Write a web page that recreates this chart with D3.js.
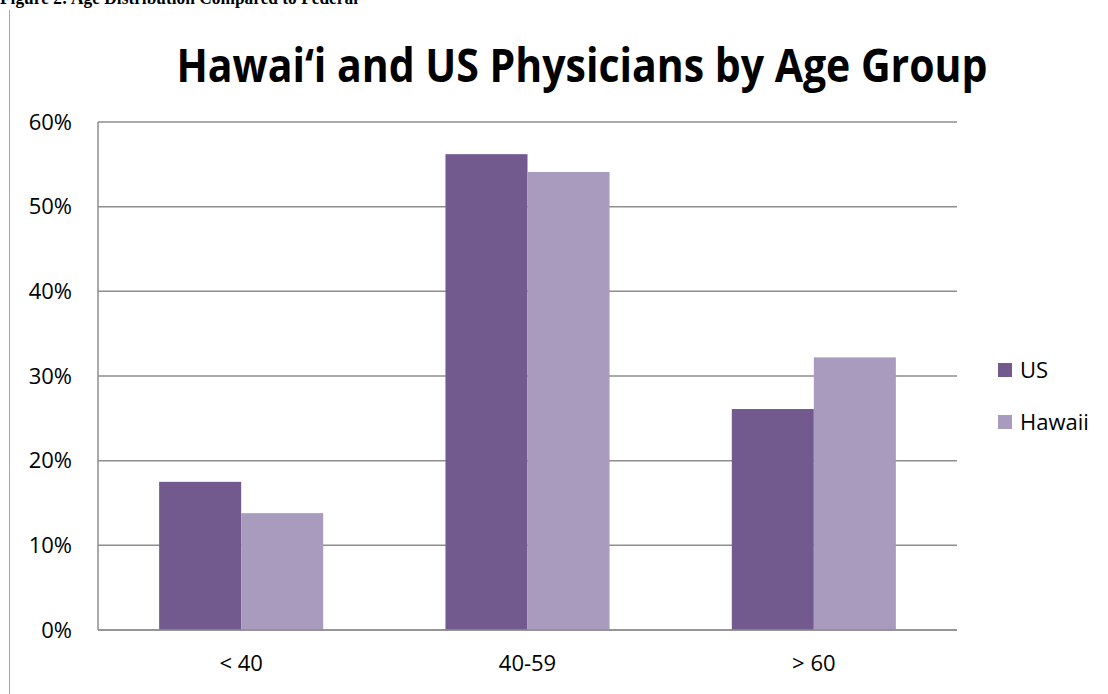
<!DOCTYPE html>
<html>
<head>
<meta charset="utf-8">
<script src="https://cdn.jsdelivr.net/npm/d3@7"></script>
<style>
  body { margin: 0; background: #fff; }
  svg { display: block; }
</style>
</head>
<body>
<div id="chart"></div>
<script>
const ageGroups = ["< 40", "40-59", "> 60"];
const seriesNames = ["US", "Hawaii"];
const usValues = [0.175, 0.562, 0.261];
const hawaiiValues = [0.138, 0.541, 0.322];
const yTicks = [0, 0.1, 0.2, 0.3, 0.4, 0.5, 0.6];
const colors = ["#725a8e", "#a99bbd"];

function barChart() {
  const width = 1108;
  const height = 694;
  const margin = { top: 122, right: 151, bottom: 64, left: 98 };

  const svg = d3.select("#chart")
    .append("svg")
    .attr("width", width)
    .attr("height", height);

  // caption from the document, cut off at the top like the source
  svg.append("text")
    .attr("x", 0)
    .attr("y", 4)
    .attr("textLength", 358)
    .attr("lengthAdjust", "spacingAndGlyphs")
    .style("font-family", "'Liberation Serif', serif")
    .style("font-weight", "bold")
    .style("font-size", "18px")
    .text("Figure 2: Age Distribution Compared to Federal");

  svg.append("line")
    .attr("x1", 9.5).attr("x2", 9.5)
    .attr("y1", 10).attr("y2", height)
    .attr("stroke", "#a6a6a6")
    .attr("stroke-width", 1);

  svg.append("text")
    .attr("x", 582)
    .attr("y", 82)
    .attr("text-anchor", "middle")
    .attr("textLength", 811)
    .attr("lengthAdjust", "spacingAndGlyphs")
    .style("font-family", "'Open Sans', sans-serif")
    .style("font-weight", "bold")
    .style("font-size", "46px")
    .text("Hawai\u2018i and US Physicians by Age Group");

  const x = d3.scaleBand()
    .domain(ageGroups)
    .range([margin.left, width - margin.right])
    .paddingInner(0.427)
    .paddingOuter(0.2135);

  const xSeries = d3.scaleBand()
    .domain(seriesNames)
    .range([0, x.bandwidth()]);

  const y = d3.scaleLinear()
    .domain([0, 0.6])
    .range([height - margin.bottom, margin.top]);

  // gridlines
  svg.append("g")
    .selectAll("line")
    .data(yTicks)
    .join("line")
    .attr("x1", margin.left)
    .attr("x2", width - margin.right)
    .attr("y1", d => y(d))
    .attr("y2", d => y(d))
    .attr("stroke", "#8e8e8e")
    .attr("stroke-width", 1.5);

  svg.append("line")
    .attr("x1", margin.left).attr("x2", margin.left)
    .attr("y1", y(0.6)).attr("y2", y(0))
    .attr("stroke", "#8e8e8e")
    .attr("stroke-width", 1.5);

  const rows = ageGroups.map((g, i) => ({
    group: g,
    values: [
      { name: "US", value: usValues[i] },
      { name: "Hawaii", value: hawaiiValues[i] }
    ]
  }));

  svg.append("g")
    .selectAll("g")
    .data(rows)
    .join("g")
    .attr("transform", d => `translate(${x(d.group)},0)`)
    .selectAll("rect")
    .data(d => d.values)
    .join("rect")
    .attr("x", d => xSeries(d.name))
    .attr("y", d => y(d.value))
    .attr("width", xSeries.bandwidth())
    .attr("height", d => y(0) - y(d.value))
    .attr("fill", (d, i) => colors[i]);

  // redraw the baseline over the bars
  svg.append("line")
    .attr("x1", margin.left).attr("x2", width - margin.right)
    .attr("y1", y(0)).attr("y2", y(0))
    .attr("stroke", "#8e8e8e")
    .attr("stroke-width", 1.5);

  svg.append("g")
    .selectAll("text")
    .data(yTicks)
    .join("text")
    .attr("x", 72)
    .attr("y", d => y(d))
    .attr("dy", "0.35em")
    .attr("text-anchor", "end")
    .style("font-family", "'Open Sans', sans-serif")
    .style("font-size", "22px")
    .text(d => d3.format(".0%")(d));

  svg.append("g")
    .selectAll("text")
    .data(ageGroups)
    .join("text")
    .attr("x", d => x(d) + x.bandwidth() / 2)
    .attr("y", 663)
    .attr("dy", "0.35em")
    .attr("text-anchor", "middle")
    .style("font-family", "'Open Sans', sans-serif")
    .style("font-size", "22px")
    .text(d => d);

  const legend = svg.append("g")
    .selectAll("g")
    .data(seriesNames)
    .join("g")
    .attr("transform", (d, i) => `translate(998,${370 + i * 52})`);

  legend.append("rect")
    .attr("x", 0)
    .attr("y", -7)
    .attr("width", 14)
    .attr("height", 14)
    .attr("fill", (d, i) => colors[i]);

  legend.append("text")
    .attr("x", 22)
    .attr("y", 0)
    .attr("dy", "0.35em")
    .style("font-family", "'Open Sans', sans-serif")
    .style("font-size", "22px")
    .text(d => d);
}

barChart();
</script>
</body>
</html>
